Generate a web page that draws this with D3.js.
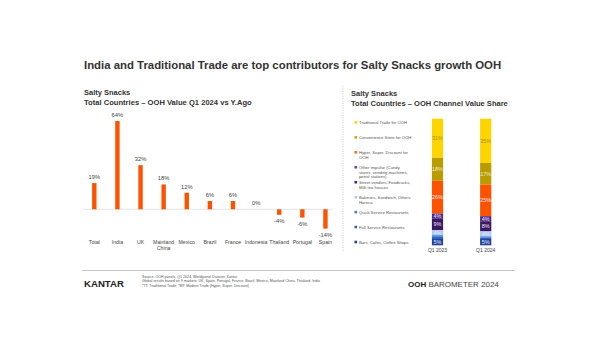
<!DOCTYPE html>
<html><head><meta charset="utf-8">
<script src="https://cdn.jsdelivr.net/npm/d3@7"></script>
<style>
html,body{margin:0;padding:0;background:#fff;}
svg{display:block;font-family:"Liberation Sans",Arial,sans-serif;}
</style></head>
<body>
<svg id="c" width="600" height="338"></svg>
<script>
// ---- data ----
const countries = ["Total","India","UK","Mainland China","Mexico","Brazil","France","Indonesia","Thailand","Portugal","Spain"];
const growth = [19,64,32,18,12,6,6,0,-4,-6,-14];

const periods = ["Q1 2023","Q1 2024"];
const channels = ["Traditional Trade for OOH","Convenience Store for OOH","Hyper, Super, Discount for OOH",
  "Other impulse (Candy stores, vending machines, petrol stations)","Street vendors, Foodtrucks, Milk tea houses",
  "Bakeries, Sandwich, Others Horeca","Quick Service Restaurants","Full Service Restaurants","Bars, Cafes, Coffee Shops"];
const legendLines = [["Traditional Trade for OOH"],["Convenience Store for OOH"],["Hyper, Super, Discount for","OOH"],
  ["Other impulse (Candy","stores, vending machines,","petrol stations)"],["Street vendors, Foodtrucks,","Milk tea houses"],
  ["Bakeries, Sandwich, Others","Horeca"],["Quick Service Restaurants"],["Full Service Restaurants"],["Bars, Cafes, Coffee Shops"]];
const share2023 = [31,18,26,4,9,4,1,2,5];
const share2024 = [35,17,25,4,8,4,1,1,5];
const shareLabels2023 = ["31%","18%","26%","4%","9%","4%","","","5%"];
const shareLabels2024 = ["35%","17%","25%","4%","8%","4%","","","5%"];
const channelColors = ["#FFD500","#B89C00","#FF5200","#4E2683","#3A1862","#A8C9F7","#3F7FE0","#2D62C4","#1C4498"];
const legendColors = ["#FFD500","#C9A800","#FF6A2A","#7A3FB0","#4A2478","#A8C9F7","#3F7FE0","#2D62C4","#1C4498"];

const svg = d3.select("#c");
function fit(sel, w){ const n=sel.node(); const l=n.getComputedTextLength(); const fs=parseFloat(sel.attr("font-size")); sel.attr("font-size", fs*w/l); }

// ---- main title ----
const t = svg.append("text").attr("x",84).attr("y",69).attr("font-size",11).attr("font-weight","bold").attr("fill","#333")
  .text("India and Traditional Trade are top contributors for Salty Snacks growth OOH");
fit(t,418);

// ---- left chart ----
svg.append("text").attr("x",84).attr("y",95).attr("font-size",7.5).attr("font-weight","bold").attr("fill","#333").text("Salty Snacks");
const lt = svg.append("text").attr("x",84).attr("y",105).attr("font-size",7.5).attr("font-weight","bold").attr("fill","#333")
  .text("Total Countries – OOH Value Q1 2024 vs Y.Ago");
fit(lt,168);

const x = d3.scaleBand().domain(countries).range([82.75,337]);
const y = d3.scaleLinear().domain([-14,64]).range([228.6,121]);
svg.append("line").attr("x1",83).attr("x2",333).attr("y1",y(0)).attr("y2",y(0)).attr("stroke","#e4e4e4").attr("stroke-width",1);
const g = svg.append("g");
countries.forEach((c,i)=>{
  const v = growth[i]; const cx = x(c)+x.bandwidth()/2;
  if(v!==0) g.append("rect").attr("x",cx-2.2).attr("width",4.4).attr("y",y(Math.max(v,0))).attr("height",Math.abs(y(v)-y(0))).attr("fill","#FF5200");
  g.append("text").attr("x",cx).attr("y", v>=0 ? y(v)-4 : y(v)+8).attr("text-anchor","middle").attr("font-size",5.8).attr("fill","#444").text(v+"%");
  const parts = c==="Mainland China" ? ["Mainland","China"] : [c];
  parts.forEach((p,j)=> g.append("text").attr("x",cx).attr("y",244+j*6).attr("text-anchor","middle").attr("font-size",5.2).attr("fill","#444").text(p));
});

// ---- divider ----
svg.append("line").attr("x1",343).attr("x2",343).attr("y1",86).attr("y2",252).attr("stroke","#c8c8c8").attr("stroke-width",0.8).attr("stroke-dasharray","1.2,1.2");

// ---- right chart ----
svg.append("text").attr("x",351).attr("y",96).attr("font-size",7.5).attr("font-weight","bold").attr("fill","#333").text("Salty Snacks");
const rt = svg.append("text").attr("x",351).attr("y",106).attr("font-size",7.5).attr("font-weight","bold").attr("fill","#333")
  .text("Total Countries – OOH Channel Value Share");
fit(rt,157);

// legend
const legY = d3.scalePoint().domain(channels).range([122.7,242.3]);
channels.forEach((ch,i)=>{
  const yy = legY(ch);
  svg.append("rect").attr("x",354.5).attr("y",yy-1.6).attr("width",2.6).attr("height",2.6).attr("fill",legendColors[i]);
  const lines = legendLines[i];
  lines.forEach((ln,j)=> svg.append("text").attr("x",359).attr("y",yy+1.5+j*4.6).attr("font-size",4.2).attr("fill","#555").text(ln));
});

const xb = d3.scaleBand().domain(periods).range([413.4,509.8]);
const yb = d3.scaleLinear().domain([0,100]).range([245.3,118.7]);
const data = [share2023, share2024];
const labs = [shareLabels2023, shareLabels2024];
periods.forEach((p,pi)=>{
  const cx = xb(p)+xb.bandwidth()/2;
  const stack = d3.cumsum(data[pi]);
  const total = stack[stack.length-1];
  data[pi].forEach((v,i)=>{
    const top = total - (i===0?0:stack[i-1]), bot = total - stack[i];
    svg.append("rect").attr("x",cx-5.6).attr("width",11.2).attr("y",yb(top)).attr("height",yb(bot)-yb(top)).attr("fill",channelColors[i]);
    if(labs[pi][i]) svg.append("text").attr("x",cx).attr("y",(yb(top)+yb(bot))/2+1.9).attr("text-anchor","middle")
      .attr("font-size",5.4).attr("fill", i===0 ? "#a89020" : (i===1? "#f4ecc0" : "#f0e8f8")).text(labs[pi][i]);
  });
  svg.append("text").attr("x",cx).attr("y",251.5).attr("text-anchor","middle").attr("font-size",5).attr("fill","#444").text(p);
});

// ---- footer ----
svg.append("line").attr("x1",82).attr("x2",515).attr("y1",270.5).attr("y2",270.5).attr("stroke","#bbb").attr("stroke-width",0.8);
const k = svg.append("text").attr("x",84).attr("y",286.5).attr("font-size",9).attr("font-weight","bold").attr("fill","#222").text("KANTAR");
fit(k,40);
const src = ["Source: OOH panels, Q1 2024, Worldpanel Division, Kantar",
  "Global results based on 9 markets: UK, Spain, Portugal, France, Brazil, Mexico, Mainland China, Thailand, India",
  "*TT: Traditional Trade; *MT: Modern Trade (Hyper, Super, Discount)"];
src.forEach((s,i)=> svg.append("text").attr("x",142).attr("y",278+i*4.3).attr("font-size",3.6).attr("fill","#555").text(s));
const ob = svg.append("text").attr("x",408).attr("y",287).attr("font-size",8.5).attr("fill","#222");
ob.append("tspan").attr("font-weight","bold").text("OOH ");
ob.append("tspan").attr("font-weight","300").attr("fill","#444").text("BAROMETER 2024");
fit(ob,91);
</script>
</body></html>
